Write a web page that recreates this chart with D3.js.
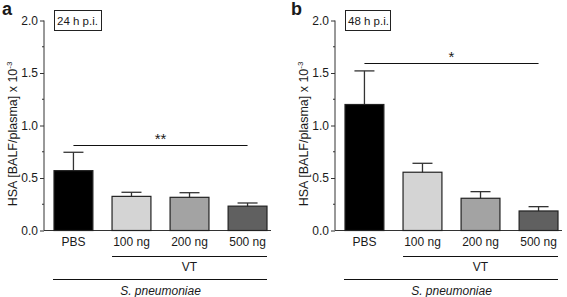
<!DOCTYPE html>
<html lang="en">
<head>
<meta charset="UTF-8">
<title>HSA BALF/plasma</title>
<script src="https://cdn.jsdelivr.net/npm/d3@7"></script>
<style>
  body { margin: 0; background: #fff; }
  text { font-family: "Liberation Sans", Arial, sans-serif; fill: #1a1a1a; }
</style>
</head>
<body>
<div id="chart"></div>
<script>
// data
const categories = ["PBS", "100 ng", "200 ng", "500 ng"];
const barColors = ["#000000", "#d4d4d4", "#a3a3a3", "#606060"];
const means24 = [0.57, 0.325, 0.316, 0.232];
const errTop24 = [0.745, 0.364, 0.36, 0.262];
const means48 = [1.2, 0.555, 0.307, 0.186];
const errTop48 = [1.52, 0.64, 0.37, 0.227];
const yTicks = [0, 0.5, 1.0, 1.5, 2.0];
const yMinor = [0.25, 0.75, 1.25, 1.75];
const sigLevels = [0.81, 1.595];
const sigMarks = ["**", "*"];

const W = 567, H = 297;
const svg = d3.select("#chart").append("svg")
  .attr("width", W).attr("height", H);

const y = d3.scaleLinear().domain([0, 2]).range([230.5, 20.5]);

function drawPanel(opt) {
  const g = svg.append("g");
  const x = d3.scaleBand()
    .domain(categories)
    .range([opt.bx0, opt.bx1])
    .paddingInner(0.33)
    .paddingOuter(0);

  // panel letter
  g.append("text")
    .attr("x", opt.letterX).attr("y", 15)
    .style("font-size", "18px").style("font-weight", "bold")
    .text(opt.letter);

  // y axis
  const ax = g.append("g")
    .attr("transform", `translate(${opt.axisX},0)`)
    .call(d3.axisLeft(y).tickValues(yTicks).tickFormat(d3.format(".1f")).tickSize(4).tickPadding(2));
  ax.select(".domain").attr("stroke", "#333").attr("d", `M-0,${y(2)}V${y(0)}`);
  ax.selectAll(".tick line").attr("stroke", "#333");
  ax.selectAll(".tick text").style("font-size", "12px").attr("fill", "#222");
  g.selectAll(".minor")
    .data(yMinor).join("line")
    .attr("x1", opt.axisX - 2).attr("x2", opt.axisX)
    .attr("y1", d => y(d)).attr("y2", d => y(d))
    .attr("stroke", "#333");

  // baseline
  g.append("line")
    .attr("x1", opt.axisX).attr("x2", opt.bx1 + 4)
    .attr("y1", y(0)).attr("y2", y(0))
    .attr("stroke", "#333");

  // y label
  const yl = g.append("text")
    .attr("transform", `translate(${opt.axisX - 27},${y(0.92)}) rotate(-90)`)
    .attr("text-anchor", "middle")
    .style("font-size", "12.5px");
  yl.append("tspan").text("HSA [BALF/plasma] x 10");
  yl.append("tspan").attr("dy", -5).style("font-size", "8px").text("-3");

  // error bars
  const data = categories.map((c, i) => ({ c, m: opt.means[i], e: opt.errs[i], col: barColors[i] }));
  g.selectAll(".err").data(data).join("line")
    .attr("x1", d => x(d.c) + x.bandwidth() / 2).attr("x2", d => x(d.c) + x.bandwidth() / 2)
    .attr("y1", d => y(d.m) + 2).attr("y2", d => y(d.e))
    .attr("stroke", "#333").attr("stroke-width", 1.3);
  g.selectAll(".cap").data(data).join("line")
    .attr("x1", d => x(d.c) + x.bandwidth() / 2 - 10).attr("x2", d => x(d.c) + x.bandwidth() / 2 + 10)
    .attr("y1", d => y(d.e)).attr("y2", d => y(d.e))
    .attr("stroke", "#333").attr("stroke-width", 1.3);

  // bars
  g.selectAll(".bar").data(data).join("rect")
    .attr("x", d => x(d.c)).attr("width", x.bandwidth())
    .attr("y", d => y(d.m)).attr("height", d => y(0) - y(d.m))
    .attr("fill", d => d.col)
    .attr("stroke", "#222").attr("stroke-width", 1.2);

  // category labels
  g.selectAll(".cat").data(categories).join("text")
    .attr("x", d => x(d) + x.bandwidth() / 2).attr("y", 246)
    .attr("text-anchor", "middle").style("font-size", "12px")
    .text(d => d);

  // VT bracket
  g.append("line")
    .attr("x1", x("100 ng")).attr("x2", x("500 ng") + x.bandwidth())
    .attr("y1", 256.5).attr("y2", 256.5).attr("stroke", "#111");
  g.append("text")
    .attr("x", (x("100 ng") + x("500 ng") + x.bandwidth()) / 2).attr("y", 271)
    .attr("text-anchor", "middle").style("font-size", "12px").text("VT");

  // S. pneumoniae bracket
  g.append("line")
    .attr("x1", x("PBS") - 1).attr("x2", x("500 ng") + x.bandwidth())
    .attr("y1", 279.5).attr("y2", 279.5).attr("stroke", "#111");
  g.append("text")
    .attr("x", (x("PBS") + x("500 ng") + x.bandwidth()) / 2).attr("y", 295)
    .attr("text-anchor", "middle").style("font-size", "12px").style("font-style", "italic")
    .text("S. pneumoniae");

  // significance line
  const sy = Math.round(y(opt.sig)) + 0.5;
  g.append("line")
    .attr("x1", x("PBS") + x.bandwidth() / 2).attr("x2", x("500 ng") + x.bandwidth() / 2)
    .attr("y1", sy).attr("y2", sy).attr("stroke", "#111");
  g.append("text")
    .attr("x", (x("PBS") + x("500 ng") + x.bandwidth()) / 2).attr("y", sy - 2)
    .attr("text-anchor", "middle").style("font-size", "15px")
    .text(opt.sigMark);

  // time box
  g.append("rect")
    .attr("x", opt.bx0 + 0.5).attr("y", 10.5)
    .attr("width", opt.boxW).attr("height", 20)
    .attr("fill", "#fff").attr("stroke", "#222");
  g.append("text")
    .attr("x", opt.bx0 + 3).attr("y", 25)
    .style("font-size", "11.5px").text(opt.time);
}

drawPanel({ letter: "a", letterX: 2, axisX: 44, bx0: 54, bx1: 267,
  means: means24, errs: errTop24, sig: sigLevels[0], sigMark: sigMarks[0],
  time: "24 h p.i.", boxW: 47 });
drawPanel({ letter: "b", letterX: 291, axisX: 335, bx0: 345, bx1: 558,
  means: means48, errs: errTop48, sig: sigLevels[1], sigMark: sigMarks[1],
  time: "48 h p.i.", boxW: 45 });
</script>
</body>
</html>
